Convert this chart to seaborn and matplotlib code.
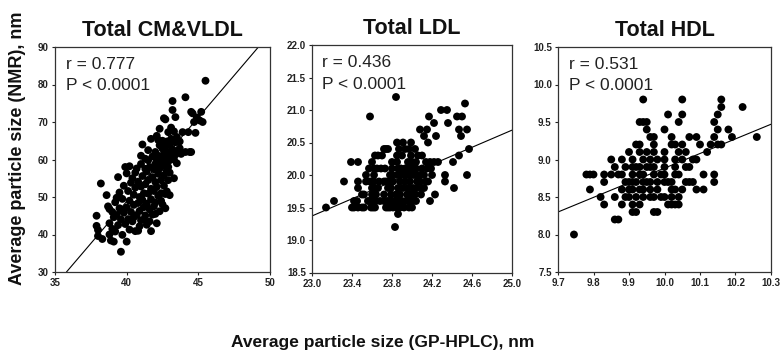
import matplotlib
matplotlib.use("Agg")
import matplotlib.pyplot as plt
import seaborn as sns
import pandas as pd

# ---------------- data ----------------
titles = ["Total CM&VLDL", "Total LDL", "Total HDL"]
stats_r = ["0.777", "0.436", "0.531"]
stats_p = ["P < 0.0001", "P < 0.0001", "P < 0.0001"]

vldl_x = [37.9, 37.9, 38.0, 38.0, 38.3, 38.2, 38.6, 38.7, 38.8, 38.8, 38.9, 39.1, 39.0, 39.1, 39.2, 39.2,
          39.3, 39.4, 39.4, 39.5, 39.5, 39.6, 39.6, 39.7, 39.7, 39.8, 39.8, 39.9, 40.0, 40.0, 40.0, 40.1,
          40.1, 40.2, 40.2, 40.3, 40.3, 40.4, 40.4, 40.5, 40.5, 40.6, 40.6, 40.7, 40.7, 40.8, 40.8, 40.8,
          40.9, 40.9, 41.0, 41.0, 41.0, 41.1, 41.1, 41.1, 41.2, 41.2, 41.3, 41.3, 41.3, 41.4, 41.4, 41.5,
          41.5, 41.5, 41.6, 41.6, 41.7, 41.7, 41.7, 41.8, 41.8, 41.8, 41.9, 41.9, 42.0, 42.0, 42.0, 42.1,
          42.1, 42.1, 42.2, 42.2, 42.2, 42.3, 42.3, 42.3, 42.4, 42.4, 42.4, 42.5, 42.5, 42.5, 42.6, 42.6,
          42.6, 42.7, 42.7, 42.7, 42.8, 42.8, 42.8, 42.9, 42.9, 43.0, 43.0, 43.0, 43.1, 43.1, 43.2, 43.2,
          43.2, 43.3, 43.3, 43.4, 43.4, 43.5, 43.6, 43.7, 43.9, 44.1, 44.1, 44.3, 44.4, 44.5, 44.6, 44.7,
          44.8, 44.9, 45.2, 45.1, 45.3, 45.5,
          40.5, 40.9, 41.2, 41.4, 41.6, 40.2, 40.6, 41.0, 41.3, 41.9, 42.0, 42.3, 42.5, 42.7, 42.4, 42.6,
          42.9, 43.0, 43.3, 42.8, 42.1, 41.7, 41.5, 42.2, 42.0, 39.9, 39.6, 39.3, 39.0, 38.8,
          42.7, 43.4, 44.5, 43.1, 43.7, 43.5, 42.9, 43.8]
vldl_y = [45.0, 42.3, 41.2, 39.6, 38.8, 53.6, 50.5, 47.5, 46.8, 43.0, 38.4, 38.1, 41.5, 44.6, 48.6, 40.8,
          45.2, 42.5, 55.3, 51.2, 47.0, 35.4, 44.0, 39.9, 49.5, 53.0, 45.8, 42.8, 38.1, 47.2, 56.3, 44.1,
          51.6, 49.0, 41.3, 53.8, 46.0, 55.0, 43.5, 47.9, 50.6, 40.9, 52.5, 45.2, 57.6, 48.4, 41.0, 54.1,
          50.0, 46.3, 52.8, 43.8, 58.8, 49.2, 55.6, 64.0, 47.3, 51.0, 45.1, 53.4, 60.2, 56.8, 48.2, 50.9,
          54.5, 62.5, 46.7, 58.0, 52.2, 49.4, 65.5, 55.3, 60.8, 45.3, 57.4, 51.6, 48.5, 54.0, 62.0, 59.5,
          52.7, 66.3, 56.2, 61.0, 50.3, 63.8, 57.6, 68.2, 54.5, 60.1, 51.0, 62.9, 58.3, 65.0, 55.8, 61.5,
          71.0, 59.2, 63.5, 50.8, 57.0, 64.8, 60.6, 62.0, 67.3, 59.8, 63.9, 56.5, 61.4, 65.5, 73.2, 75.6,
          62.7, 67.5, 60.0, 61.3, 64.6, 66.0, 62.4, 64.8, 67.3, 62.0, 76.6, 67.3, 62.0, 62.0, 72.3, 70.0,
          67.1, 71.2, 72.7, 70.4, 70.0, 81.0,
          44.6, 42.2, 44.0, 42.6, 43.5, 58.2, 56.5, 61.0, 57.5, 47.5, 45.5, 46.2, 48.0, 47.0, 49.0, 53.0,
          54.5, 50.5, 55.0, 51.5, 43.0, 40.9, 59.8, 65.2, 58.8, 58.0, 46.5, 49.8, 46.0, 40.0,
          70.7, 71.3, 72.7, 68.5, 63.0, 59.0, 58.0, 61.5]

# LDL: NMR size (row value) -> GP-HPLC sizes of the points on that row
ldl_rows = {
    19.2: [23.83],
    19.4: [23.86],
    19.5: [23.14, 23.40, 23.42, 23.46, 23.50, 23.52, 23.59, 23.61, 23.63, 23.74, 23.76, 23.78, 23.81,
           23.85, 23.88, 23.92, 23.97, 24.00],
    19.6: [23.22, 23.42, 23.45, 23.56, 23.58, 23.61, 23.64, 23.68, 23.72, 23.75, 23.77, 23.80, 23.83,
           23.87, 23.90, 23.94, 23.98, 24.01, 24.04, 24.18],
    19.7: [23.50, 23.52, 23.60, 23.64, 23.72, 23.79, 23.84, 23.88, 23.95, 23.99, 24.03, 24.09, 24.23],
    19.8: [23.46, 23.60, 23.62, 23.66, 23.76, 23.79, 23.86, 23.91, 23.96, 24.01, 24.05, 24.10, 24.12,
           24.42],
    19.9: [23.32, 23.46, 23.54, 23.58, 23.62, 23.67, 23.72, 23.74, 23.78, 23.81, 23.88, 23.93, 23.98,
           24.05, 24.08, 24.14, 24.16, 24.33],
    20.0: [23.54, 23.62, 23.78, 23.80, 23.85, 23.88, 23.92, 23.95, 23.99, 24.02, 24.05, 24.08, 24.12,
           24.20, 24.33, 24.55],
    20.1: [23.57, 23.62, 23.65, 23.69, 23.73, 23.80, 23.86, 23.89, 23.93, 23.96, 24.00, 24.04, 24.10,
           24.15, 24.19],
    20.2: [23.39, 23.46, 23.60, 23.80, 23.85, 23.96, 24.00, 24.04, 24.14, 24.18, 24.22, 24.26, 24.41],
    20.3: [23.63, 23.66, 23.70, 23.85, 23.90, 23.99, 24.06, 24.10, 24.47],
    20.4: [23.72, 23.74, 23.76, 23.87, 23.93, 23.97, 24.03, 24.57],
    20.5: [23.85, 23.91, 23.99, 24.16],
    20.6: [24.12, 24.24, 24.49],
    20.7: [24.08, 24.15, 24.47, 24.55],
    20.8: [24.22, 24.36],
    20.9: [23.58, 24.17, 24.45, 24.50],
    21.0: [24.29, 24.35],
    21.1: [24.53],
    21.2: [23.84],
}

# HDL: NMR size (row value) -> GP-HPLC sizes of the points on that row
hdl_rows = {
    8.0: [9.745],
    8.2: [9.86, 9.87],
    8.3: [9.91, 9.92, 9.97, 9.98],
    8.4: [9.83, 9.88, 9.91, 9.93, 10.01, 10.02, 10.03, 10.04],
    8.5: [9.82, 9.86, 9.89, 9.90, 9.92, 9.94, 9.96, 9.97, 9.99, 10.00, 10.02, 10.04],
    8.6: [9.79, 9.88, 9.90, 9.91, 9.93, 9.94, 9.96, 9.98, 10.02, 10.03, 10.05, 10.09, 10.11],
    8.7: [9.83, 9.89, 9.90, 9.91, 9.92, 9.94, 9.95, 9.96, 9.98, 10.00, 10.01, 10.02, 10.06, 10.07,
          10.08, 10.14],
    8.8: [9.78, 9.79, 9.80, 9.83, 9.85, 9.87, 9.88, 9.91, 9.93, 9.94, 9.97, 9.99, 10.00, 10.03, 10.04,
          10.11, 10.14],
    8.9: [9.86, 9.89, 9.91, 9.92, 9.93, 9.95, 9.96, 9.97, 10.00, 10.03, 10.06, 10.07],
    9.0: [9.85, 9.88, 9.91, 9.94, 9.96, 9.98, 10.00, 10.03, 10.05, 10.08, 10.09],
    9.1: [9.90, 9.93, 9.95, 9.97, 10.00, 10.04, 10.06, 10.12],
    9.2: [9.92, 9.93, 9.97, 10.02, 10.03, 10.05, 10.10, 10.13, 10.15, 10.16],
    9.3: [9.96, 9.97, 10.02, 10.07, 10.09, 10.14, 10.19, 10.26],
    9.4: [9.95, 10.00, 10.15, 10.18],
    9.5: [9.93, 9.94, 9.95, 10.04, 10.14],
    9.6: [10.01, 10.05, 10.15],
    9.7: [10.16, 10.22],
    9.8: [9.94, 10.05, 10.16],
}

# regression lines: (x0, y0, slope)
fit_lines = [(35.8, 30.0, 4.48), (23.0, 19.37, 0.66), (9.7, 8.30, 1.95)]

xlims = [(35, 50), (23.0, 25.0), (9.7, 10.3)]
ylims = [(30, 90), (18.5, 22.0), (7.5, 10.5)]
xticks = [[35, 40, 45, 50], [23.0, 23.4, 23.8, 24.2, 24.6, 25.0], [9.7, 9.8, 9.9, 10.0, 10.1, 10.2, 10.3]]
yticks = [[30, 40, 50, 60, 70, 80, 90], [18.5, 19.0, 19.5, 20.0, 20.5, 21.0, 21.5, 22.0],
          [7.5, 8.0, 8.5, 9.0, 9.5, 10.0, 10.5]]
xfmt = ["{:.0f}", "{:.1f}", "{:.1f}"]
yfmt = ["{:.0f}", "{:.1f}", "{:.1f}"]

ylabel = "Average particle size (NMR), nm"
xlabel = "Average particle size (GP-HPLC), nm"


def rows_to_frame(rows):
    xs, ys = [], []
    for yv, xl in rows.items():
        for xv in xl:
            xs.append(xv)
            ys.append(yv)
    return pd.DataFrame({"x": xs, "y": ys})


frames = [pd.DataFrame({"x": vldl_x, "y": vldl_y}), rows_to_frame(ldl_rows), rows_to_frame(hdl_rows)]

# ---------------- style ----------------
sns.set_theme(style="ticks")
plt.rcParams["font.family"] = ["Liberation Sans", "DejaVu Sans"]

W, H = 782, 358
fig = plt.figure(figsize=(W / 100, H / 100), dpi=100)
fig.patch.set_facecolor("white")

# pixel boxes: left, top, right, bottom
boxes = [(55, 47, 270, 272), (312, 45, 512, 272.5), (558, 47, 771, 272)]

for i, (l, t, r, b) in enumerate(boxes):
    ax = fig.add_axes([l / W, (H - b) / H, (r - l) / W, (b - t) / H])
    ax.set_facecolor("white")
    sns.scatterplot(data=frames[i], x="x", y="y", ax=ax, color="black", s=32,
                    edgecolor="none", linewidth=0, legend=False, zorder=3)
    x0, y0, m = fit_lines[i]
    ax.axline((x0, y0), slope=m, color="black", lw=0.8, zorder=2)
    ax.set_xlim(*xlims[i])
    ax.set_ylim(*ylims[i])
    ax.set_xticks(xticks[i])
    ax.set_yticks(yticks[i])
    ax.set_xticklabels([xfmt[i].format(v) for v in xticks[i]], fontweight="bold", fontsize=7)
    ax.set_yticklabels([yfmt[i].format(v) for v in yticks[i]], fontweight="bold", fontsize=7)
    ax.tick_params(axis="both", length=2.5, width=0.8, pad=2, colors="#222222")
    ax.set_xlabel("")
    ax.set_ylabel("")
    for sp in ax.spines.values():
        sp.set_visible(True)
        sp.set_color("#333333")
        sp.set_linewidth(0.9)
    ax.set_title(titles[i], fontsize=15.5, fontweight="bold", pad=8, color="#111111")
    ax.text(0.05, 0.955, "r = " + stats_r[i], transform=ax.transAxes, fontsize=12.5,
            color="#222222", va="top", ha="left")
    ax.text(0.05, 0.86, stats_p[i], transform=ax.transAxes, fontsize=12.5,
            color="#222222", va="top", ha="left")

fig.text(18 / W, 1 - 148 / H, ylabel, rotation=90, ha="center", va="center",
         fontsize=13, fontweight="bold", color="#111111")
fig.text(383 / W, 1 - 343 / H, xlabel, ha="center", va="center",
         fontsize=12.5, fontweight="bold", color="#111111")

fig.savefig("out.png", dpi=100, facecolor="white")
